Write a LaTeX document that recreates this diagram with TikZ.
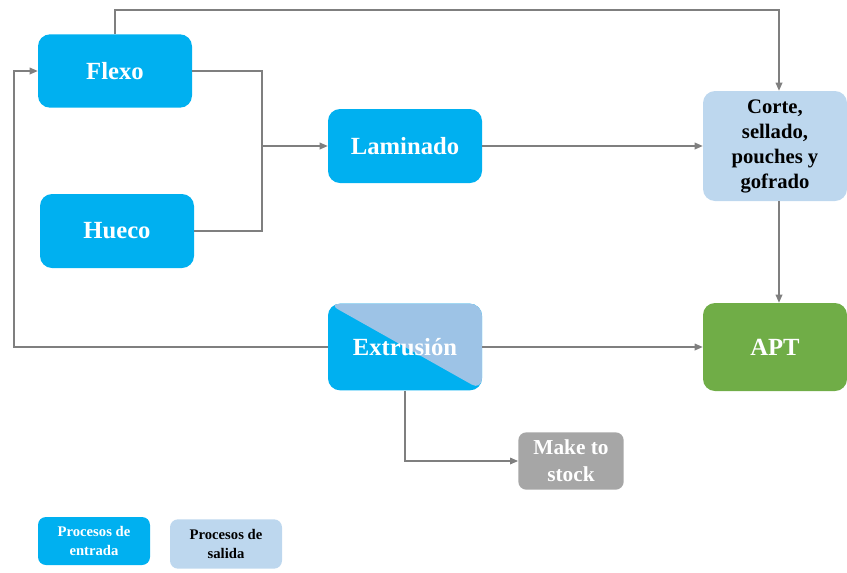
\documentclass[tikz,border=0pt]{standalone}
\usepackage{fontspec}
\setmainfont{Liberation Serif}
\usepackage{xcolor}
\usetikzlibrary{arrows.meta,positioning,calc}
\definecolor{pcyan}{HTML}{00B0F0}
\definecolor{plight}{HTML}{BDD7EE}
\definecolor{pmid}{HTML}{9DC3E6}
\definecolor{pgreen}{HTML}{70AD47}
\definecolor{pgray}{HTML}{A6A6A6}
\definecolor{pline}{HTML}{7F7F7F}
\tikzset{
  proc/.style={rectangle,rounded corners=9pt,fill=pcyan,minimum width=115.5pt,
               minimum height=55pt,align=center,text=white,
               font=\fontsize{18.5}{22}\selectfont\bfseries},
  outproc/.style={proc,fill=plight,text=black,
                  font=\fontsize{15.5}{18.75}\selectfont\bfseries},
  legbox/.style={rectangle,rounded corners=6pt,minimum width=84pt,minimum height=36pt,
                 align=center,font=\fontsize{11}{14}\selectfont\bfseries},
  link/.style={line width=0.9pt,draw=pline},
  flow/.style={link,-{Triangle[length=6pt,width=5pt]}},
}
\begin{document}
\begin{tikzpicture}[x=0.75pt,y=-0.75pt]
\useasboundingbox (0,0) rectangle (847,572);
% input processes
\node[proc] (flexo) at (115,71) {Flexo};
\node[proc,minimum height=55.5pt] (hueco) at (117,231) {Hueco};
\node[proc,minimum height=55.5pt] (lam) at (405,146) {Laminado};
\node[proc,minimum height=65pt,
      path picture={\fill[pmid] (path picture bounding box.north west)
        -- (path picture bounding box.north east)
        -- (path picture bounding box.south east) -- cycle;}]
      (ext) at (405,347) {Extrusión};
% output side
\node[outproc,minimum width=108pt,minimum height=82.5pt] (corte) at (775,146)
      {Corte,\\sellado,\\pouches y\\gofrado};
\node[proc,fill=pgreen,minimum width=108pt,minimum height=66pt] (apt) at (775,347) {APT};
\node[proc,fill=pgray,minimum width=79pt,minimum height=43pt,rounded corners=6pt,
      font=\fontsize{16}{20}\selectfont\bfseries] (stock) at (571,461) {Make to\\stock};
% legend
\node[legbox,fill=pcyan,text=white] (legin) at (94,541) {Procesos de\\entrada};
\node[legbox,fill=plight,text=black,minimum height=37pt] (legout) at (226,544) {Procesos de\\salida};

% connectors
\coordinate (join) at (262,146);
\draw[link] (flexo.east) -| (join);
\draw[link] (hueco.east) -| (join);
\draw[flow] (join) -- (lam.west);
\draw[flow] (lam.east) -- (corte.west);
\draw[flow] (flexo.north) -- (115,10) -| ([xshift=3pt]corte.north);
\draw[flow] ([xshift=3pt]corte.south) -- ([xshift=3pt]apt.north);
\draw[flow] (ext.east) -- (apt.west);
\draw[flow] (ext.west) -- (14,347) |- (flexo.west);
\draw[flow] (ext.south) |- (stock.west);
\end{tikzpicture}
\end{document}
